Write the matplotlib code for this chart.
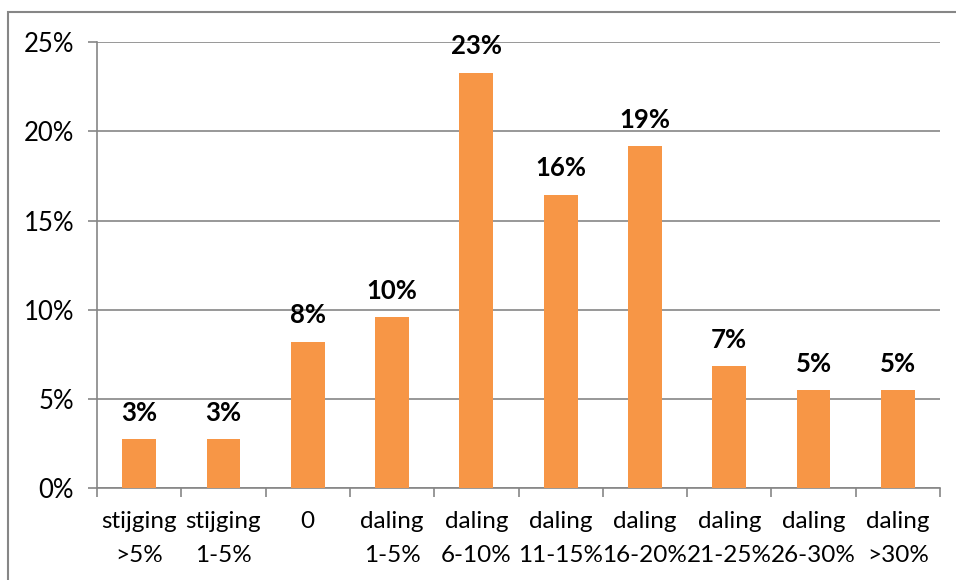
import matplotlib
matplotlib.use("Agg")
import matplotlib.pyplot as plt
from matplotlib.patches import Rectangle
from matplotlib.ticker import FuncFormatter, MultipleLocator
import numpy as np

# Data
categories = ["stijging\n>5%", "stijging\n1-5%", "0", "daling\n1-5%", "daling\n6-10%",
              "daling\n11-15%", "daling\n16-20%", "daling\n21-25%", "daling\n26-30%", "daling\n>30%"]
values = [2.74, 2.74, 8.22, 9.59, 23.29, 16.44, 19.18, 6.85, 5.48, 5.48]
labels = ["3%", "3%", "8%", "10%", "23%", "16%", "19%", "7%", "5%", "5%"]

W, H = 956, 580
plt.rcParams['font.family'] = ['Lato', 'DejaVu Sans']
grid_col = '#868686'
bar_col = '#F79646'
fs = 18.5

fig = plt.figure(figsize=(W / 100, H / 100), dpi=100)
# outer chart border (only left/top edges visible)
fig.patches.append(Rectangle((8 / W, -0.1), 1.2, (H - 12) / H + 0.1, transform=fig.transFigure,
                             fill=False, edgecolor=grid_col, linewidth=1.5))

ax = fig.add_axes([97 / W, (H - 488.3) / H, 843 / W, (488.3 - 42) / H])
x = np.arange(len(categories))
ax.bar(x, values, width=0.4, color=bar_col, zorder=3)

for xi, v, lab in zip(x, values, labels):
    ax.annotate(lab, (xi, v), xytext=(0, 19), textcoords='offset points',
                ha='center', va='center', fontsize=fs, fontweight='bold')

ax.set_xlim(-0.5, len(categories) - 0.5)
ax.set_ylim(0, 25)
ax.yaxis.set_major_locator(MultipleLocator(5))
ax.yaxis.set_major_formatter(FuncFormatter(lambda v, p: f"{v:.0f}%"))
ax.grid(axis='y', color=grid_col, linewidth=1.2, zorder=0)

ax.set_xticks(x)
ax.set_xticklabels(categories, fontsize=17.5, linespacing=1.8)
ax.set_xticks(np.arange(-0.5, len(categories)), minor=True)
ax.tick_params(axis='x', which='major', length=0, pad=16)
ax.tick_params(axis='x', which='minor', length=6.5, color=grid_col, width=1.2, direction='out')
ax.tick_params(axis='y', length=6.5, color=grid_col, width=1.2, labelsize=fs, pad=10)

for s in ['top', 'right']:
    ax.spines[s].set_visible(False)
for s in ['left', 'bottom']:
    ax.spines[s].set_color(grid_col)
    ax.spines[s].set_linewidth(1.2)

fig.savefig("out.png", dpi=100)
